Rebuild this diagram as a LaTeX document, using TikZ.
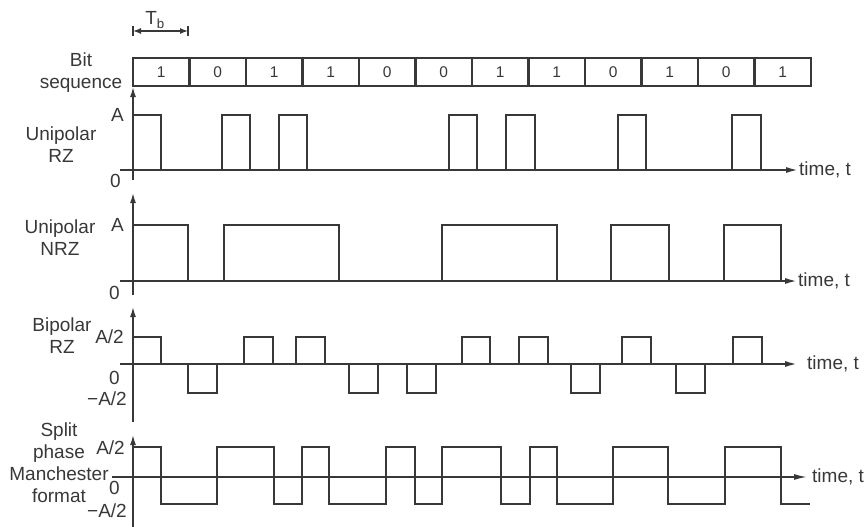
\documentclass[tikz,border=0pt]{standalone}
\usepackage{fontspec}
\setmainfont{Liberation Sans}
\usetikzlibrary{arrows.meta}
\colorlet{ink}{black!78}

\begin{document}
\begin{tikzpicture}[x=1pt, y=-1pt,
  wave/.style={color=ink, line width=2.6pt, line join=miter},
  vaxis/.style={color=ink, line width=1.5pt, -{Latex[length=10pt, width=6pt]}},
  taxis/.style={color=ink, line width=2.2pt, -{Latex[length=13pt, width=6pt]}},
  bitcell/.style={draw, color=ink, line width=2.8pt, minimum width=56.5pt, minimum height=28pt, inner sep=0pt, font=\fontsize{15.5}{18}\selectfont},
  lbl/.style={color=ink, align=center, font=\fontsize{19}{22}\selectfont},
  lvl/.style={color=ink, anchor=east, inner sep=0pt, font=\fontsize{19}{21}\selectfont},
  tlbl/.style={color=ink, anchor=west, inner sep=0pt, font=\fontsize{19}{21}\selectfont}]
  \useasboundingbox (0,0) rectangle (867,527);

  % bit sequence
  \node[lbl] (lbits) at (81,73) {Bit\\sequence};
  \foreach \bit [count=\i] in {1,0,1,1,0,0,1,1,0,1,0,1}
    \node[bitcell] (b\i) at ({133+56.5*(\i-0.5)},72) {\bit};

  % bit period
  \coordinate (tbl) at (133,31);
  \coordinate (tbr) at (188,31);
  \draw[color=ink, line width=1.4pt, {Latex[length=8pt, width=6pt]}-{Latex[length=8pt, width=6pt]}] (tbl) -- (tbr);
  \draw[color=ink, line width=1.4pt] ([yshift=-5pt]tbl) -- ([yshift=5pt]tbl);
  \draw[color=ink, line width=1.4pt] ([yshift=-5pt]tbr) -- ([yshift=5pt]tbr);
  \node[color=ink, font=\fontsize{19}{22}\selectfont] (tb) at (155,20) {T\textsubscript{b}};

  % unipolar RZ
  \node[lbl] (lrz) at (61,145) {Unipolar\\RZ};
  \coordinate (rzb) at (133,180);
  \coordinate (rzt) at (133,87);
  \draw[vaxis] (rzb) -- (rzt);
  \coordinate (rz0) at (120,170);
  \node[tlbl] (trz) at (799,170) {time, t};
  \draw[taxis] (rz0) -- (trz.west);
  \node[lvl] (rzA) at (124,115) {A};
  \node[lvl] (rzO) at (121,181) {0};
  \foreach \a/\b in {133/161, 222/250, 279/307, 449/477, 506/535, 618/646, 732/761}
    \draw[wave] (\a,170) |- (\b,115) -- (\b,170);

  % unipolar NRZ
  \node[lbl] (lnrz) at (60,238) {Unipolar\\NRZ};
  \coordinate (nrzb) at (133,295);
  \coordinate (nrzt) at (133,193);
  \draw[vaxis] (nrzb) -- (nrzt);
  \coordinate (nrz0) at (120,281);
  \node[tlbl] (tnrz) at (798,281) {time, t};
  \draw[taxis] (nrz0) -- (tnrz.west);
  \node[lvl] (nrzA) at (124,225) {A};
  \node[lvl] (nrzO) at (120,293) {0};
  \foreach \a/\b in {133/188, 224/339, 442/557, 611/669, 724/781}
    \draw[wave] (\a,281) |- (\b,225) -- (\b,281);

  % bipolar RZ
  \node[lbl] (lbrz) at (62,336) {Bipolar\\RZ};
  \coordinate (brzb) at (133,422);
  \coordinate (brzt) at (133,307);
  \draw[vaxis] (brzb) -- (brzt);
  \coordinate (brz0) at (120,364);
  \node[tlbl, inner xsep=9pt] (tbrz) at (798,364) {time, t};
  \draw[taxis] (brz0) -- (tbrz.west);
  \node[lvl] (brzA) at (124,337) {A/2};
  \node[lvl] (brzO) at (120,378) {0};
  \node[lvl] (brzM) at (127,399) {−A/2};
  \foreach \a/\b in {133/161, 244/273, 296/325, 462/490, 519/548, 622/651, 733/762}
    \draw[wave] (\a,364) |- (\b,337) -- (\b,364);
  \foreach \a/\b in {188/217, 349/378, 407/436, 571/600, 676/705}
    \draw[wave] (\a,364) |- (\b,393) -- (\b,364);

  % split phase Manchester
  \node[lbl] (lman) at (59,463) {Split\\phase\\Manchester\\format};
  \coordinate (manb) at (133,530);
  \coordinate (mant) at (133,435);
  \draw[vaxis] (manb) -- (mant);
  \coordinate (man0) at (112,477);
  \node[tlbl, inner xsep=5pt] (tman) at (807,477) {time, t};
  \draw[taxis, line width=1.6pt] (man0) -- (tman.west);
  \node[lvl] (manA) at (125,448) {A/2};
  \node[lvl] (manO) at (120,488) {0};
  \node[lvl] (manM) at (127,511) {−A/2};
  \draw[wave] (133,447) -| (161,504) -| (217,447) -| (274,504) -| (302,447)
    -| (329,504) -| (386,447) -| (415,504) -| (442,447) -| (501,504)
    -| (530,447) -| (557,504) -| (613,447) -| (668,504) -| (725,447)
    -| (781,504) -- (810,504);
\end{tikzpicture}
\end{document}
